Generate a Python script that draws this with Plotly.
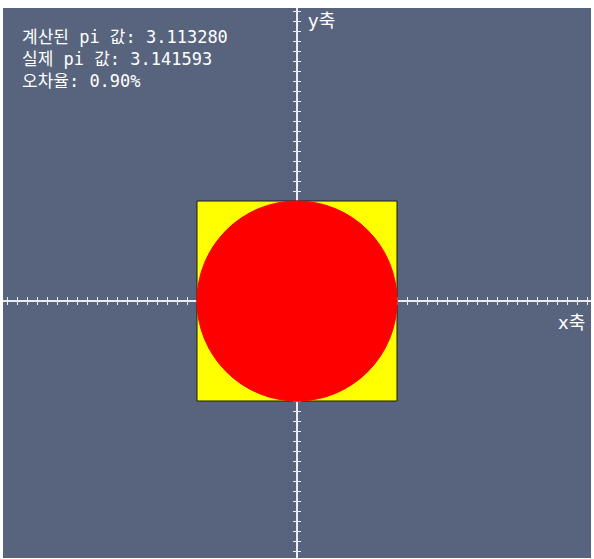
import plotly.graph_objects as go

# values
pi_estimated = 3.113280
pi_actual = 3.141593
error_rate = 0.90          # percent
square_half = 1.0          # sampling square: -1..1
circle_radius = 1.0
x_range = [-2.94, 2.94]
y_range = [-2.57, 2.93]
tick_step = 0.1

info_lines = [
    f"계산된 pi 값: {pi_estimated:.6f}",
    f"실제 pi 값: {pi_actual:.6f}",
    f"오차율: {error_rate:.2f}%",
]

BG = "#58647d"
AXIS = "#e8edf2"
FONT = "DejaVu Sans, Noto Sans CJK KR, sans-serif"
MONO = "DejaVu Sans Mono, Noto Sans CJK KR, monospace"

fig = go.Figure()

# empty traces so the overlaid axes get drawn
fig.add_trace(go.Scatter(x=[], y=[], xaxis="x", yaxis="y", showlegend=False))
fig.add_trace(go.Scatter(x=[], y=[], xaxis="x2", yaxis="y2", showlegend=False))

# yellow square and red circle (points in / out of the unit circle)
fig.add_shape(type="rect", xref="x", yref="y",
              x0=-square_half, x1=square_half, y0=-square_half, y1=square_half,
              fillcolor="#ffff00", line=dict(color="#1a1a1a", width=1), layer="above")
fig.add_shape(type="circle", xref="x", yref="y",
              x0=-circle_radius, x1=circle_radius, y0=-circle_radius, y1=circle_radius,
              fillcolor="#ff0000", line=dict(color="#ff0000", width=1), layer="above")

x_pos = (0 - y_range[0]) / (y_range[1] - y_range[0])
y_pos = (0 - x_range[0]) / (x_range[1] - x_range[0])

common = dict(showgrid=False, zeroline=False, showticklabels=False,
              showline=True, linecolor=AXIS, linewidth=1.5,
              ticks="outside", ticklen=3, tickwidth=1, tickcolor=AXIS,
              dtick=tick_step, tick0=0, automargin=False)

fig.update_layout(
    width=594, height=559,
    margin=dict(l=3, r=3, t=8, b=1, pad=0),
    paper_bgcolor="white",
    plot_bgcolor=BG,
    showlegend=False,
    xaxis=dict(range=x_range, anchor="free", position=x_pos, side="bottom", **common),
    xaxis2=dict(range=x_range, anchor="free", position=x_pos, side="top",
                overlaying="x", **common),
    yaxis=dict(range=y_range, anchor="free", position=y_pos, side="left", **common),
    yaxis2=dict(range=y_range, anchor="free", position=y_pos, side="right",
                overlaying="y", **common),
    font=dict(family=FONT, color="white"),
)

fig.add_annotation(
    xref="paper", yref="paper", x=0, y=1, xanchor="left", yanchor="top",
    xshift=17, yshift=-17, showarrow=False, align="left",
    text="<br>".join(info_lines), font=dict(size=17, color="white", family=MONO),
)
fig.add_annotation(xref="x", yref="paper", x=0, y=1, xanchor="left", yanchor="middle",
                   xshift=9, yshift=-12, showarrow=False, text="y축",
                   font=dict(size=18, color="white", family=FONT))
fig.add_annotation(xref="paper", yref="y", x=1, y=0, xanchor="right", yanchor="middle",
                   xshift=-4, yshift=-21, showarrow=False, text="x축",
                   font=dict(size=18, color="white", family=FONT))

# drop the browser's default page margin so the figure sits at the window corner
fig.write_html("out.html", config={"displayModeBar": False},
               post_script="document.body.style.margin='0';")
